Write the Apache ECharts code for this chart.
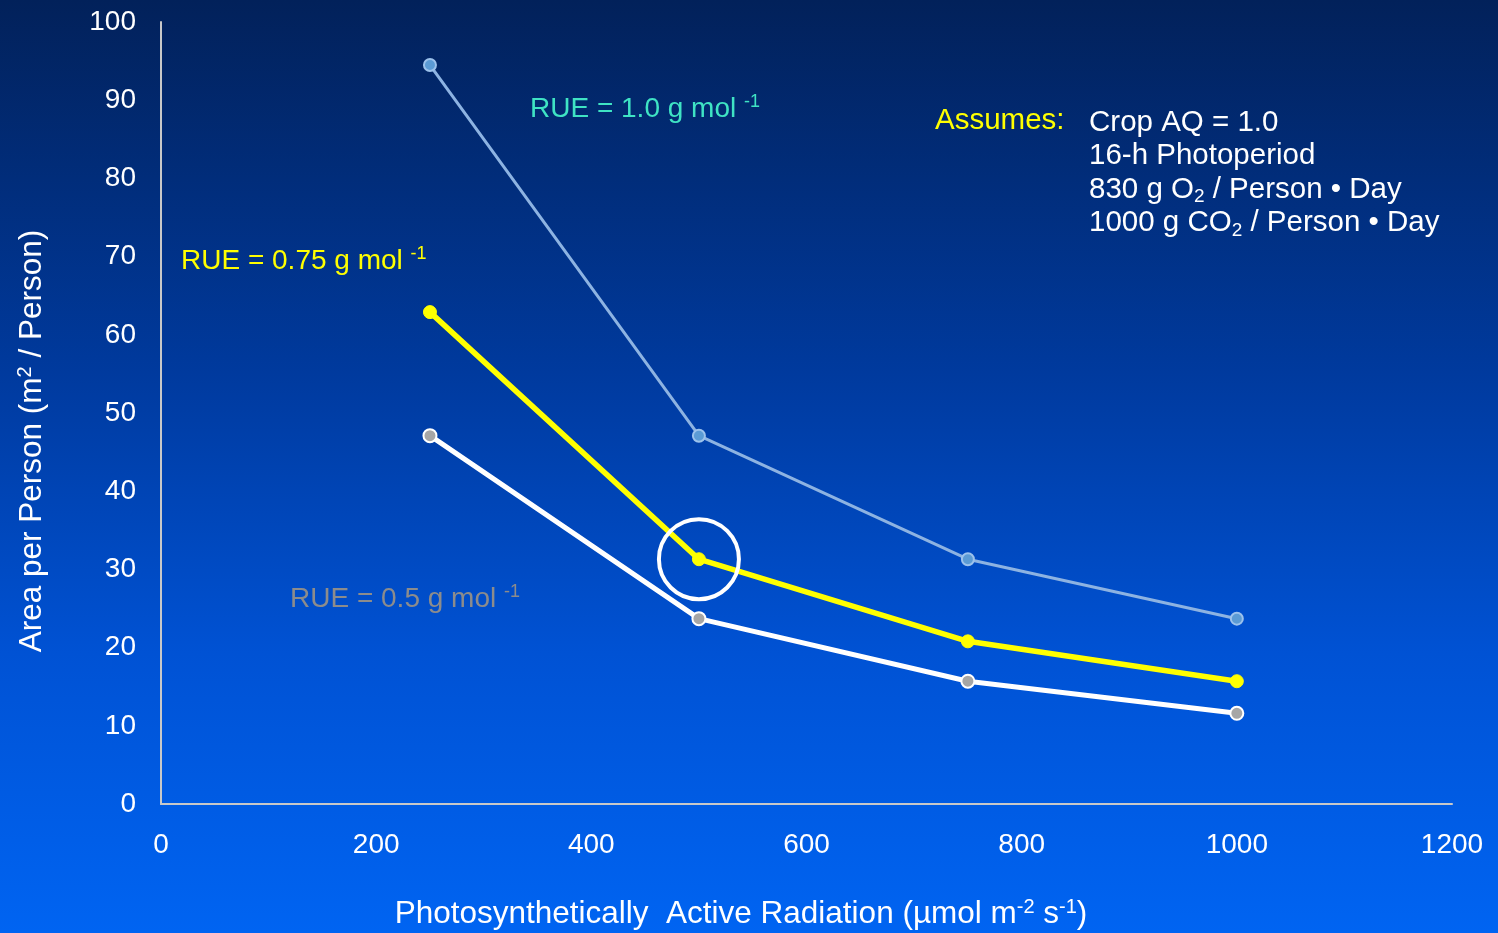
<!DOCTYPE html>
<html>
<head>
<meta charset="utf-8">
<script src="https://cdn.jsdelivr.net/npm/echarts@6/dist/echarts.min.js"></script>
<style>
html,body{margin:0;padding:0;width:100%;height:100%;}
body{background:linear-gradient(to bottom,#02215a 0%,#003a9e 40%,#0052d4 70%,#0064f2 100%);}
#c{width:1498px;height:933px;}
</style>
</head>
<body>
<div id="c"></div>
<script>
const par = [250, 500, 750, 1000];
const rue10 = [94.5, 47.1, 31.3, 23.7];
const rue075 = [62.9, 31.3, 20.8, 15.7];
const rue05 = [47.1, 23.7, 15.7, 11.6];
const xTicks = [0, 200, 400, 600, 800, 1000, 1200];
const yTicks = [0, 10, 20, 30, 40, 50, 60, 70, 80, 90, 100];
const xTitle = 'Photosynthetically  Active Radiation (µmol m{sup|-2} s{sup|-1})';
const yTitle = 'Area per Person (m{sup|2} / Person)';
const assumptions = ['Crop AQ = 1.0', '16-h Photoperiod', '830 g O{sub|2} / Person • Day', '1000 g CO{sub|2} / Person • Day'];

const FONT = '"Liberation Sans", Arial, sans-serif';
const chart = echarts.init(document.getElementById('c'));
const pts = a => par.map((x, i) => [x, a[i]]);
const sup = {fontSize: 18, verticalAlign: 'top', padding: [0, 0, 14, 0], fontFamily: FONT};
const titleSup = {fontSize: 20, verticalAlign: 'top', padding: [0, 0, 14, 0], fill: '#fff', fontFamily: FONT};

chart.setOption({
  backgroundColor: 'transparent',
  animation: false,
  textStyle: {fontFamily: FONT},
  grid: {left: 161, right: 46, top: 22, bottom: 129, containLabel: false},
  xAxis: {
    type: 'value', min: 0, max: 1200, interval: 200,
    axisLine: {show: true, lineStyle: {color: '#c8c8c8', width: 2}},
    axisTick: {show: false}, splitLine: {show: false},
    axisLabel: {color: '#ffffff', fontSize: 28, margin: 27, fontFamily: FONT,
      formatter: v => xTicks.includes(v) ? String(v) : ''}
  },
  yAxis: {
    type: 'value', min: 0, max: 100, interval: 10,
    axisLine: {show: true, lineStyle: {color: '#c8c8c8', width: 2}},
    axisTick: {show: false}, splitLine: {show: false},
    axisLabel: {color: '#ffffff', fontSize: 28, margin: 25, fontFamily: FONT,
      formatter: v => yTicks.includes(v) ? String(v) : ''}
  },
  series: [
    {
      name: 'RUE = 1.0', type: 'line', data: pts(rue10),
      lineStyle: {color: '#8db3e2', width: 3},
      symbol: 'circle', symbolSize: 12,
      itemStyle: {color: '#5b9bd5', borderColor: '#9cc2ec', borderWidth: 2}
    },
    {
      name: 'RUE = 0.5', type: 'line', data: pts(rue05),
      lineStyle: {color: '#ffffff', width: 5},
      symbol: 'circle', symbolSize: 13,
      itemStyle: {color: '#a6a6a6', borderColor: '#ffffff', borderWidth: 2}
    },
    {
      name: 'RUE = 0.75', type: 'line', data: pts(rue075),
      lineStyle: {color: '#ffff00', width: 5.5},
      symbol: 'circle', symbolSize: 13,
      itemStyle: {color: '#ffff00', borderColor: '#ffff00', borderWidth: 1},
      markPoint: {
        symbol: 'circle', symbolSize: 80, silent: true,
        itemStyle: {color: 'rgba(0,0,0,0)', borderColor: '#ffffff', borderWidth: 4},
        label: {show: false},
        data: [{coord: [par[1], rue075[1]]}]
      }
    }
  ],
  graphic: [
    {type: 'text', x: 741, y: 914, style: {
      text: xTitle, fill: '#ffffff', fontSize: 31.5, fontFamily: FONT,
      align: 'center', verticalAlign: 'middle', rich: {sup: titleSup}}},
    {type: 'text', x: 32, y: 441, rotation: Math.PI / 2, style: {
      text: yTitle, fill: '#ffffff', fontSize: 31.5, fontFamily: FONT,
      align: 'center', verticalAlign: 'middle', rich: {sup: titleSup}}},
    {type: 'text', left: 530, top: 93, style: {
      text: 'RUE = 1.0 g mol {sup|-1}', fill: '#3fe3c4', fontSize: 28, fontFamily: FONT,
      rich: {sup: Object.assign({}, sup, {fill: '#3fe3c4'})}}},
    {type: 'text', left: 181, top: 245, style: {
      text: 'RUE = 0.75 g mol {sup|-1}', fill: '#ffff00', fontSize: 28, fontFamily: FONT,
      rich: {sup: Object.assign({}, sup, {fill: '#ffff00'})}}},
    {type: 'text', left: 290, top: 583, style: {
      text: 'RUE = 0.5 g mol {sup|-1}', fill: '#8c8c8c', fontSize: 28, fontFamily: FONT,
      rich: {sup: Object.assign({}, sup, {fill: '#8c8c8c'})}}},
    {type: 'text', left: 935, top: 106, style: {
      text: 'Assumes:', fill: '#ffff00', fontSize: 29.5, fontFamily: FONT}},
    {type: 'text', left: 1089, top: 106, style: {
      text: assumptions.join('\n'), fill: '#ffffff', fontSize: 29.5, lineHeight: 33.5, fontFamily: FONT,
      rich: {sub: {fontSize: 19, verticalAlign: 'bottom', padding: [12, 0, 0, 0], fill: '#fff', lineHeight: 33.5, fontFamily: FONT}}}}
  ]
});
</script>
</body>
</html>
